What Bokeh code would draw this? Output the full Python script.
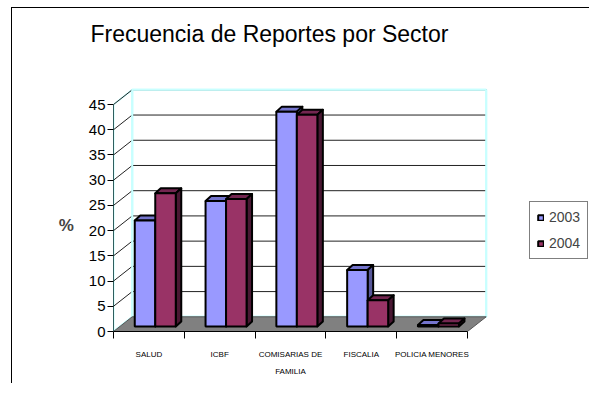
from bokeh.plotting import figure
from bokeh.models import Range1d, FixedTicker, Legend, LegendItem
from bokeh.embed import file_html
from bokeh.resources import INLINE

# ---- data ----
categories = ["SALUD", "ICBF", "COMISARIAS DE\nFAMILIA", "FISCALIA", "POLICIA MENORES"]
series_names = ["2003", "2004"]
values_2003 = [21.0, 24.9, 42.6, 11.2, 0.3]
values_2004 = [26.4, 25.3, 42.0, 5.2, 0.6]
y_ticks = [0, 5, 10, 15, 20, 25, 30, 35, 40, 45]
y_max = 45

# ---- layout constants (pixels) ----
W, H = 578, 376
ML, MR, MT, MB = 101, 0, 42, 53
PX_CAT = 70.8      # pixels per category
PX_PCT = 5.044     # pixels per percent
frame_w = W - ML - MR
frame_h = H - MT - MB
n = len(categories)

DX = 18.7 / PX_CAT
DY = 14.7 / PX_PCT
BAR_F = 0.34
BOX, BOY = BAR_F * DX, BAR_F * DY
BDX, BDY = 5.5 / PX_CAT, 5.0 / PX_PCT
BW = 20.5 / PX_CAT

p = figure(width=W, height=H, output_backend="svg", toolbar_location=None,
           x_range=Range1d(0, frame_w / PX_CAT), y_range=Range1d(0, frame_h / PX_PCT),
           min_border_left=ML, min_border_right=MR, min_border_top=MT, min_border_bottom=MB,
           title="Frecuencia de Reportes por Sector")
p.styles = {"box-shadow": "-1px -1px 0 0 black", "margin-left": "12px", "margin-top": "8px"}
p.outline_line_color = None
p.grid.visible = False
p.background_fill_color = "white"
p.border_fill_color = "white"

p.title.text_font = "Liberation Sans"
p.title.text_font_size = "23px"
p.title.text_font_style = "normal"
p.title.text_color = "black"
p.title.align = "left"
p.title.offset = -23
p.title.standoff = 8

wall_c = "#C8FFFF"
p.patch([DX, n + DX, n + DX, DX], [DY, DY, y_max + DY, y_max + DY],
        fill_color="white", line_color=wall_c, line_width=2)
p.patch([0, DX, DX, 0], [0, DY, y_max + DY, y_max],
        fill_color="white", line_color=wall_c, line_width=2)

gx, gy = [], []
for v in y_ticks[1:]:
    gx.append([0, DX, n + DX]); gy.append([v, v + DY, v + DY])
p.multi_line(gx, gy, line_color="#222222", line_width=1)
p.line([n + DX, n + DX, DX], [y_max + DY, DY, DY], line_color=wall_c, line_width=2)
p.line([DX, DX, n + DX], [DY, y_max + DY, y_max + DY], line_color=wall_c, line_width=2)

p.patch([0, n, n + DX, DX], [0, 0, DY, DY], fill_color="#808080",
        line_color="#555555", line_width=1)

cols = {"2003": ("#9999FF", "#7474CC", "#58589A"),
        "2004": ("#993366", "#732650", "#4A1833")}
renderers = {}
for si, (name, vals) in enumerate(zip(series_names, [values_2003, values_2004])):
    front, top, side = cols[name]
    lefts = [i + 0.5 + BOX - BW + si * BW for i in range(n)]
    rights = [l + BW for l in lefts]
    bots = [BOY] * n
    tops = [BOY + v for v in vals]
    tx = [[l, r, r + BDX, l + BDX] for l, r in zip(lefts, rights)]
    ty = [[t, t, t + BDY, t + BDY] for t in tops]
    p.patches(tx, ty, fill_color=top, line_color="black", line_width=2, line_join="round")
    sx = [[r, r + BDX, r + BDX, r] for r in rights]
    sy = [[b, b + BDY, t + BDY, t] for b, t in zip(bots, tops)]
    p.patches(sx, sy, fill_color=side, line_color="black", line_width=2, line_join="round")
    renderers[name] = p.quad(left=lefts, right=rights, bottom=bots, top=tops,
                             fill_color=front, line_color="black", line_width=2)

p.yaxis.ticker = FixedTicker(ticks=y_ticks)
p.yaxis.bounds = (0, y_max)
p.yaxis.axis_line_color = "#2F5F5F"
p.yaxis.major_tick_out = 6
p.yaxis.major_tick_in = 0
p.yaxis.minor_tick_line_color = None
p.yaxis.major_label_standoff = 2
p.yaxis.major_label_text_font = "Liberation Sans"
p.yaxis.major_label_text_font_size = "15px"
p.yaxis.major_label_text_color = "black"
p.yaxis.axis_label = "\n\n\n%"
p.yaxis.axis_label_orientation = "horizontal"
p.yaxis.axis_label_standoff = 12
p.yaxis.axis_label_text_font = "Liberation Sans"
p.yaxis.axis_label_text_font_size = "17px"
p.yaxis.axis_label_text_font_style = "bold"

centers = [i + 0.5 for i in range(n)]
p.xaxis.ticker = FixedTicker(ticks=centers, minor_ticks=list(range(n + 1)))
p.xaxis.major_label_overrides = {c: lab for c, lab in zip(centers, categories)}
p.xaxis.bounds = (0, n)
p.xaxis.axis_line_color = "black"
p.xaxis.major_tick_line_color = None
p.xaxis.major_tick_out = 0
p.xaxis.major_tick_in = 0
p.xaxis.minor_tick_out = 7
p.xaxis.minor_tick_in = 0
p.xaxis.minor_tick_line_color = "black"
p.xaxis.major_label_standoff = 11
p.xaxis.major_label_text_font = "Liberation Sans"
p.xaxis.major_label_text_font_size = "8px"
p.xaxis.major_label_text_line_height = 1.9
p.xaxis.major_label_text_color = "black"

legend = Legend(items=[LegendItem(label=nm, renderers=[renderers[nm]]) for nm in series_names],
                location=(frame_w - 61, 72))
legend.border_line_color = "black"
legend.border_line_width = 1
legend.background_fill_alpha = 1
legend.padding = 7
legend.margin = 0
legend.spacing = 10
legend.glyph_width = 7
legend.glyph_height = 7
legend.label_height = 14
legend.label_standoff = 5
legend.label_text_font = "Liberation Sans"
legend.label_text_font_size = "14px"
p.add_layout(legend)

open("out.html", "w").write(file_html(p, INLINE))
